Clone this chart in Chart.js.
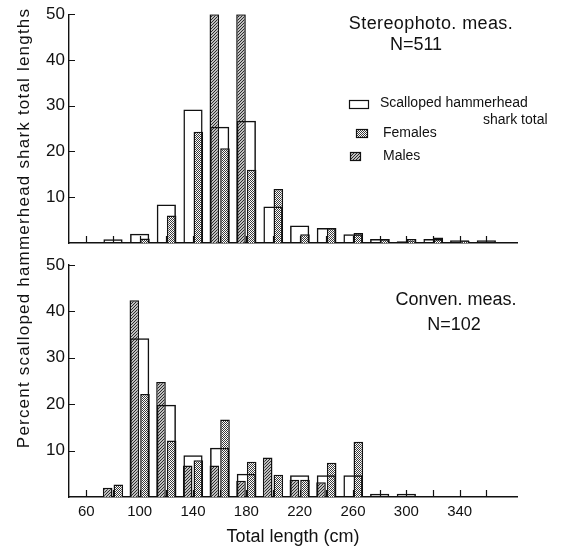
<!DOCTYPE html>
<html>
<head>
<meta charset="utf-8">
<title>Scalloped hammerhead total lengths</title>
<script src="https://cdn.jsdelivr.net/npm/chart.js@4.4.1/dist/chart.umd.min.js"></script>
<style>
  body { margin: 0; background: #fff; }
  #wrap { position: relative; width: 563px; height: 548px; }
  #wrap canvas { position: absolute; left: 0; top: 0; }
</style>
</head>
<body>
<div id="wrap">
  <canvas id="chartTop" width="563" height="548"></canvas>
  <canvas id="chartBottom" width="563" height="548"></canvas>
</div>
<script>
// 20 cm length classes, given by their centre (cm)
const lengthBins = [60, 80, 100, 120, 140, 160, 180, 200, 220, 240, 260, 280, 300, 320, 340, 360];
const xTickLabels = [60, 100, 140, 180, 220, 260, 300, 340];
const yTickLabels = [10, 20, 30, 40, 50];

// Stereophoto. meas., N=511 (percent)
const stereoTotal   = [null, 0.8, 2.0, 8.4, 29.2, 25.4, 26.7, 8.0, 3.8, 3.3, 1.9, 0.9, 0.4, 0.9, 0.6, 0.6];
const stereoMales   = [null, null, null, null, null, 50, 50, null, null, null, null, null, null, null, null, null];
const stereoFemales = [null, null, 1.0, 6.0, 24.3, 20.7, 16.0, 11.8, 1.9, 3.3, 2.2, 0.9, 0.9, 1.2, 0.4, null];

// Conven. meas., N=102 (percent)
const convTotal   = [null, null, 34.2, 19.9, 9.0, 10.6, 5.0, null, 4.7, 4.7, 4.7, 0.7, 0.7, null, null, null];
const convMales   = [null, 2.0, 42.4, 24.8, 6.8, 6.8, 3.5, 8.5, 3.7, 3.2, null, null, null, null, null, null];
const convFemales = [null, 2.7, 22.2, 12.2, 7.9, 16.7, 7.6, 4.8, 3.7, 7.4, 11.9, null, null, null, null, null];

const FONT = "'Liberation Sans', Arial, sans-serif";
const INK = '#111';

function makePattern(size, draw) {
  const c = document.createElement('canvas');
  c.width = size;
  c.height = size;
  const g = c.getContext('2d');
  g.fillStyle = '#fff';
  g.fillRect(0, 0, size, size);
  draw(g);
  return g.createPattern(c, 'repeat');
}

// males: dense diagonal hatching
const hatch = makePattern(3, g => {
  g.strokeStyle = '#222';
  g.lineWidth = 1.1;
  g.beginPath();
  g.moveTo(0, 3); g.lineTo(3, 0);
  g.moveTo(-1, 1); g.lineTo(1, -1);
  g.moveTo(2, 4); g.lineTo(4, 2);
  g.stroke();
});
// females: fine stipple
const stipple = makePattern(2, g => {
  g.fillStyle = '#3a3a3a';
  g.fillRect(0, 0, 1, 1);
  g.fillRect(1, 1, 1, 1);
});

const toPoints = vals => lengthBins.map((x, i) => ({ x: x, y: vals[i] })).filter(p => p.y != null);

function panelDatasets(total, males, females) {
  return [
    { label: 'Scalloped hammerhead shark total', data: toPoints(total), grouped: false,
      backgroundColor: 'rgba(0,0,0,0)', borderColor: INK, borderWidth: 1.5 },
    { label: 'Males', data: toPoints(males), backgroundColor: hatch, borderColor: INK, borderWidth: 1.5 },
    { label: 'Females', data: toPoints(females), backgroundColor: stipple, borderColor: INK, borderWidth: 1.5 }
  ];
}

function xScale(showLabels) {
  return {
    type: 'linear',
    min: 47,
    max: 383,
    offset: false,
    afterBuildTicks: s => { s.ticks = xTickLabels.map(v => ({ value: v })); },
    afterFit: s => { s.height = showLabels ? 51 : 0; },
    grid: { display: true, drawOnChartArea: false, drawTicks: false, offset: false },
    border: { display: true, color: INK, width: 1.4 },
    ticks: { display: showLabels, color: INK, font: { family: FONT, size: 15 }, padding: 6, maxRotation: 0, autoSkip: false },
    title: { display: showLabels, text: 'Total length (cm)', color: INK, font: { family: FONT, size: 18 }, padding: { top: 0, bottom: 0 } }
  };
}

function yScale() {
  return {
    min: 0,
    max: 50,
    afterBuildTicks: s => { s.ticks = yTickLabels.map(v => ({ value: v })); },
    afterFit: s => { s.width = 69; },
    grid: { display: true, drawOnChartArea: false, drawTicks: false },
    border: { display: true, color: INK, width: 1.4 },
    ticks: { color: INK, font: { family: FONT, size: 17 }, padding: 4 }
  };
}

// inward tick marks on both axes, drawn under the bars
const tickMarks = {
  id: 'tickMarks',
  beforeDatasetsDraw(chart) {
    const { ctx, chartArea, scales } = chart;
    ctx.save();
    ctx.strokeStyle = INK;
    ctx.lineWidth = 1.2;
    ctx.beginPath();
    yTickLabels.forEach(v => {
      const py = Math.round(scales.y.getPixelForValue(v)) + 0.5;
      ctx.moveTo(chartArea.left, py);
      ctx.lineTo(chartArea.left + 6, py);
    });
    lengthBins.forEach(v => {
      const px = Math.round(scales.x.getPixelForValue(v)) + 0.5;
      ctx.moveTo(px, chartArea.bottom);
      ctx.lineTo(px, chartArea.bottom - 7);
    });
    ctx.stroke();
    ctx.restore();
  }
};

// free text: panel notes, legend, shared y title
const notes = {
  id: 'notes',
  afterDraw(chart, args, opts) {
    const ctx = chart.ctx;
    ctx.save();
    ctx.fillStyle = INK;
    ctx.textBaseline = 'middle';
    (opts.texts || []).forEach(t => {
      ctx.font = t.size + 'px ' + FONT;
      ctx.textAlign = t.align || 'center';
      ctx.letterSpacing = (t.spacing || 0) + 'px';
      if (t.rotate) {
        ctx.save();
        ctx.translate(t.x, t.y);
        ctx.rotate(-Math.PI / 2);
        ctx.fillText(t.text, 0, 0);
        ctx.restore();
      } else {
        ctx.fillText(t.text, t.x, t.y);
      }
    });
    ctx.letterSpacing = '0px';
    if (opts.legend) {
      const ds = chart.data.datasets;
      ctx.strokeStyle = INK;
      ctx.lineWidth = 1.2;
      opts.legend.forEach(b => {
        ctx.fillStyle = ds[b.ds].backgroundColor;
        ctx.fillRect(b.x, b.y, b.w, b.h);
        ctx.strokeRect(b.x + 0.5, b.y + 0.5, b.w, b.h);
      });
    }
    ctx.restore();
  }
};

function makeChart(id, datasets, showX, padTop, padBottom, noteOpts) {
  return new Chart(document.getElementById(id), {
    type: 'bar',
    data: { datasets: datasets },
    options: {
      responsive: false,
      animation: false,
      layout: { padding: { left: 0, right: 46, top: padTop, bottom: padBottom } },
      scales: { x: xScale(showX), y: yScale() },
      plugins: {
        legend: { display: false },
        tooltip: { enabled: false },
        notes: noteOpts
      }
    },
    plugins: [tickMarks, notes]
  });
}

makeChart('chartTop', panelDatasets(stereoTotal, stereoMales, stereoFemales), false, 12, 305, {
  texts: [
    { text: 'Stereophoto. meas.', x: 431, y: 24, size: 18, spacing: 0.4 },
    { text: 'N=511', x: 416, y: 45, size: 18 },
    { text: 'Scalloped hammerhead', x: 380, y: 103, size: 14, align: 'left' },
    { text: 'shark total', x: 483, y: 120, size: 14, align: 'left' },
    { text: 'Females', x: 383, y: 133, size: 14, align: 'left' },
    { text: 'Males', x: 383, y: 156, size: 14, align: 'left' },
    { text: 'Percent scalloped hammerhead shark total lengths', x: 24, y: 228, size: 17, spacing: 1.2, rotate: true }
  ],
  legend: [
    { ds: 0, x: 349, y: 100, w: 19, h: 8 },
    { ds: 2, x: 356, y: 129, w: 11, h: 8 },
    { ds: 1, x: 350, y: 152, w: 10, h: 8 }
  ]
});

makeChart('chartBottom', panelDatasets(convTotal, convMales, convFemales), true, 265, 0, {
  texts: [
    { text: 'Conven. meas.', x: 456, y: 300, size: 18 },
    { text: 'N=102', x: 454, y: 325, size: 18 }
  ]
});
</script>
</body>
</html>
